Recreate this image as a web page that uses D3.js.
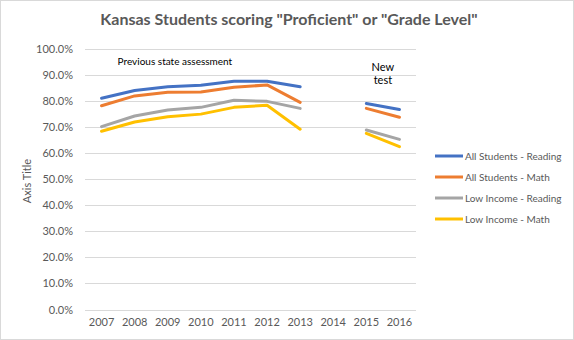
<!DOCTYPE html>
<html>
<head>
<meta charset="utf-8">
<script src="https://cdn.jsdelivr.net/npm/d3@7"></script>
<style>
  body { margin: 0; background: #fff; }
  text { font-family: Lato, "Open Sans", sans-serif; fill: #595959; }
</style>
</head>
<body>
<script>
// data
var years = ["2007", "2008", "2009", "2010", "2011", "2012", "2013", "2014", "2015", "2016"];
var allReading = [0.811, 0.841, 0.855, 0.861, 0.876, 0.876, 0.855, null, 0.791, 0.768];
var allMath = [0.782, 0.820, 0.834, 0.835, 0.853, 0.862, 0.795, null, 0.772, 0.738];
var lowReading = [0.702, 0.743, 0.766, 0.776, 0.803, 0.799, 0.772, null, 0.689, 0.653];
var lowMath = [0.684, 0.720, 0.740, 0.750, 0.776, 0.784, 0.692, null, 0.676, 0.625];
var seriesNames = ["All Students - Reading", "All Students - Math", "Low Income - Reading", "Low Income - Math"];
var yTicks = [0, 0.1, 0.2, 0.3, 0.4, 0.5, 0.6, 0.7, 0.8, 0.9, 1.0];

var colors = ["#4472C4", "#ED7D31", "#A5A5A5", "#FFC000"];
var series = [allReading, allMath, lowReading, lowMath];

// setup SVG area
var svgWidth = 574;
var svgHeight = 340;
var margin = { top: 49, right: 158, bottom: 30.5, left: 85 };
var width = svgWidth - margin.left - margin.right;
var height = svgHeight - margin.top - margin.bottom;

var svg = d3.select("body")
    .append("svg")
    .attr("width", svgWidth)
    .attr("height", svgHeight);

// chart border
svg.append("rect")
    .attr("x", 0.5).attr("y", 0.5)
    .attr("width", svgWidth - 1).attr("height", svgHeight - 1)
    .attr("fill", "#fff")
    .attr("stroke", "#d9d9d9");

var chartGroup = svg.append("g")
    .attr("transform", `translate(${margin.left}, ${margin.top})`);

// scales
var xScale = d3.scaleBand()
    .domain(years)
    .range([0, width]);
var yScale = d3.scaleLinear()
    .domain([0, 1])
    .range([height, 0]);

// gridlines
chartGroup.append("g")
    .selectAll("line")
    .data(yTicks)
    .enter()
    .append("line")
    .attr("x1", 0).attr("x2", width)
    .attr("y1", d => Math.round(yScale(d)) + 0.5)
    .attr("y2", d => Math.round(yScale(d)) + 0.5)
    .attr("stroke", "#d9d9d9")
    .attr("stroke-width", 1);

// axes
var leftAxis = d3.axisLeft(yScale)
    .tickValues(yTicks)
    .tickFormat(d3.format(".1%"))
    .tickSize(0)
    .tickPadding(12);
var yAxisG = chartGroup.append("g").call(leftAxis);
yAxisG.select(".domain").remove();
yAxisG.selectAll("text")
    .style("font-family", "Lato, sans-serif")
    .style("font-size", "11px")
    .attr("fill", "#595959");

var bottomAxis = d3.axisBottom(xScale).tickSize(0).tickPadding(9);
var xAxisG = chartGroup.append("g")
    .attr("transform", `translate(0, ${height})`)
    .call(bottomAxis);
xAxisG.select(".domain").remove();
xAxisG.selectAll("text")
    .style("font-family", "Lato, sans-serif")
    .style("font-size", "11px")
    .attr("fill", "#595959");

// lines
var line = d3.line()
    .defined(d => d != null)
    .x((d, i) => xScale(years[i]) + xScale.bandwidth() / 2)
    .y(d => yScale(d));

chartGroup.selectAll(".series")
    .data(series)
    .enter()
    .append("path")
    .attr("class", "series")
    .attr("d", d => line(d))
    .attr("fill", "none")
    .attr("stroke", (d, i) => colors[i])
    .attr("stroke-width", 3)
    .attr("stroke-linejoin", "round")
    .attr("stroke-linecap", "round");

// annotations
chartGroup.append("text")
    .attr("x", xScale("2008") - 0.5)
    .attr("y", yScale(0.94))
    .style("font-size", "10px")
    .style("fill", "#000")
    .text("Previous state assessment");

var newTest = chartGroup.append("text")
    .attr("text-anchor", "middle")
    .style("font-size", "11px")
    .style("fill", "#000");
newTest.append("tspan")
    .attr("x", xScale("2015") + xScale.bandwidth())
    .attr("y", yScale(0.93) + 4)
    .text("New");
newTest.append("tspan")
    .attr("x", xScale("2015") + xScale.bandwidth())
    .attr("y", yScale(0.88) + 4)
    .text("test");

// title
svg.append("text")
    .attr("x", 289)
    .attr("y", 25)
    .attr("text-anchor", "middle")
    .style("font-size", "16px")
    .style("font-weight", "bold")
    .text('Kansas Students scoring "Proficient" or "Grade Level"');

// axis title
svg.append("text")
    .attr("transform", "translate(31, 181) rotate(-90)")
    .attr("text-anchor", "middle")
    .style("font-size", "11px")
    .text("Axis Title");

// legend
var legend = svg.append("g")
    .attr("transform", "translate(435, 156)");
var legendItem = legend.selectAll("g")
    .data(seriesNames)
    .enter()
    .append("g")
    .attr("transform", (d, i) => `translate(0, ${i * 21})`);
legendItem.append("line")
    .attr("x1", 0).attr("x2", 28)
    .attr("y1", 0).attr("y2", 0)
    .attr("stroke", (d, i) => colors[i])
    .attr("stroke-width", 3);
legendItem.append("text")
    .attr("x", 30)
    .attr("y", 3.5)
    .style("font-size", "10px")
    .text(d => d);
</script>
</body>
</html>
